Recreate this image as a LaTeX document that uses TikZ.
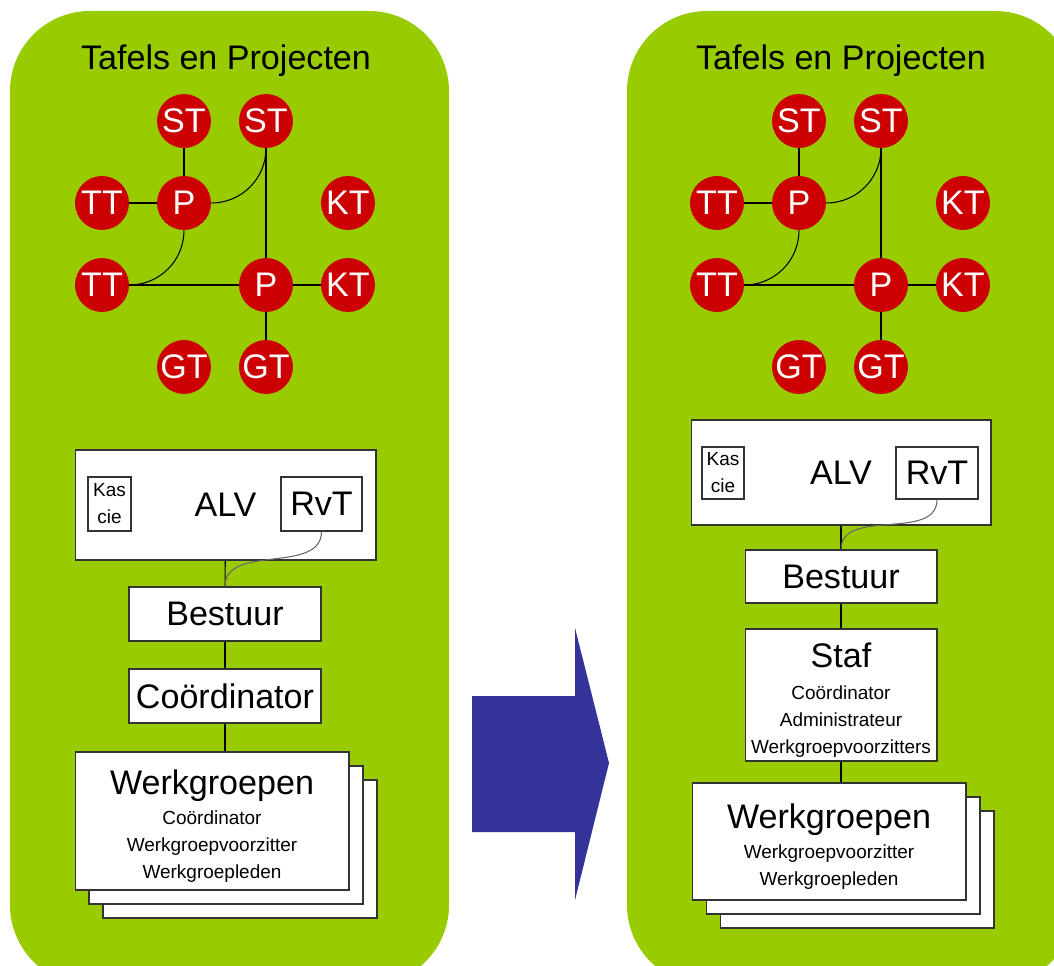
\documentclass[tikz,border=0pt]{standalone}
\usepackage{fontspec}
\setmainfont{Liberation Sans}
\usetikzlibrary{shadows}
\definecolor{orggreen}{RGB}{153, 204, 0}
\definecolor{orgred}{RGB}{204, 0, 0}
\definecolor{orgblue}{RGB}{51, 51, 153}
\newcommand\bigtxt{\fontsize{19.4}{22}\selectfont}
\newcommand\smalltxt{\fontsize{10.8}{15.4}\selectfont}

\begin{document}
\begin{tikzpicture}[x=0.02cm, y=-0.02cm,
  tafel/.style={circle, fill=orgred, text=white, inner sep=0pt, minimum size=1.08cm, font=\bigtxt},
  link/.style={black, line width=0.6pt},
  orgbox/.style={draw=black!80, fill=white, line width=0.6pt, inner sep=0pt, align=center, font=\bigtxt},
  stack/.style={orgbox, font=\smalltxt,
    copy shadow={shadow xshift=0.56cm, shadow yshift=-0.56cm, draw=black!80, line width=0.6pt},
    copy shadow={shadow xshift=0.28cm, shadow yshift=-0.28cm, draw=black!80, line width=0.6pt}}]
\useasboundingbox (0,0) rectangle (1054,966);
\begin{scope}
\clip (0,0) rectangle (1054,966);
\fill[orggreen, rounded corners=1.6cm] (10,11) rectangle (449,985);
\fill[orggreen, rounded corners=1.6cm] (627,11) rectangle (1075,985);
\end{scope}

\foreach \s/\dx in {a/0, b/615} {
  \node[font=\bigtxt] (title\s) at (226+\dx,61) {Tafels en Projecten};
  \node[tafel] (st1\s) at (184+\dx,121) {ST};
  \node[tafel] (st2\s) at (266+\dx,121) {ST};
  \node[tafel] (tt1\s) at (102+\dx,203) {TT};
  \node[tafel] (p1\s) at (184+\dx,203) {P};
  \node[tafel] (kt1\s) at (348+\dx,203) {KT};
  \node[tafel] (tt2\s) at (102+\dx,285) {TT};
  \node[tafel] (p2\s) at (266+\dx,285) {P};
  \node[tafel] (kt2\s) at (348+\dx,285) {KT};
  \node[tafel] (gt1\s) at (184+\dx,367) {GT};
  \node[tafel] (gt2\s) at (266+\dx,367) {GT};
  \draw[link] (st1\s) -- (p1\s);
  \draw[link] (tt1\s) -- (p1\s);
  \draw[link] (p1\s.east) to[out=0, in=-90] (st2\s.south);
  \draw[link] (st2\s) -- (p2\s);
  \draw[link] (p1\s.south) to[out=-90, in=0] (tt2\s.east);
  \draw[link] (tt2\s) -- (p2\s);
  \draw[link] (p2\s) -- (kt2\s);
  \draw[link] (p2\s) -- (gt2\s);
}

\node[orgbox, minimum width=6.02cm, minimum height=2.2cm] (alv1) at (225.5,505) {ALV};
\node[orgbox, font=\smalltxt, minimum width=0.86cm, minimum height=1.08cm] (kas1) at (109.5,504) {Kas\\cie};
\node[orgbox, minimum width=1.62cm, minimum height=1.08cm] (rvt1) at (321.5,504) {RvT};
\node[orgbox, minimum width=3.84cm, minimum height=1.08cm] (bestuur1) at (225,614) {Bestuur};
\node[orgbox, minimum width=3.84cm, minimum height=1.08cm] (coord1) at (225,696) {Coördinator};
\node[stack, minimum width=5.48cm, minimum height=2.76cm] (werk1) at (212,821)
  {\rule{0pt}{20pt}{\bigtxt Werkgroepen}\\[1.6pt] Coördinator\\ Werkgroepvoorzitter\\ Werkgroepleden};
\draw[link] (alv1) -- (bestuur1);
\draw[link, black!60] (rvt1.south) to[out=-90, in=90] (bestuur1.north);
\draw[link] (bestuur1) -- (coord1);
\draw[link] (coord1.south) -- (coord1.south |- werk1.north);

\fill[orgblue] (472,696) -- (575,696) -- (575,628) -- (609,763) -- (575,900) -- (575,832) -- (472,832) -- cycle;

\node[orgbox, minimum width=6.0cm, minimum height=2.1cm] (alv2) at (841,472.5) {ALV};
\node[orgbox, font=\smalltxt, minimum width=0.84cm, minimum height=1.04cm] (kas2) at (723,473) {Kas\\cie};
\node[orgbox, minimum width=1.64cm, minimum height=1.04cm] (rvt2) at (937,473) {RvT};
\node[orgbox, minimum width=3.84cm, minimum height=1.06cm] (bestuur2) at (841,576.5) {Bestuur};
\node[orgbox, font=\smalltxt, minimum width=3.84cm, minimum height=2.64cm] (staf2) at (841,695)
  {\rule{0pt}{20pt}{\bigtxt Staf}\\[2.5pt] Coördinator\\ Administrateur\\ Werkgroepvoorzitters};
\node[stack, minimum width=5.48cm, minimum height=2.34cm] (werk2) at (829,841.5)
  {\rule{0pt}{20pt}{\bigtxt Werkgroepen}\\[1.6pt] Werkgroepvoorzitter\\ Werkgroepleden};
\draw[link] (alv2) -- (bestuur2);
\draw[link, black!60] (rvt2.south) to[out=-90, in=90] (bestuur2.north);
\draw[link] (bestuur2) -- (staf2);
\draw[link] (staf2.south) -- (staf2.south |- werk2.north);
\end{tikzpicture}
\end{document}
